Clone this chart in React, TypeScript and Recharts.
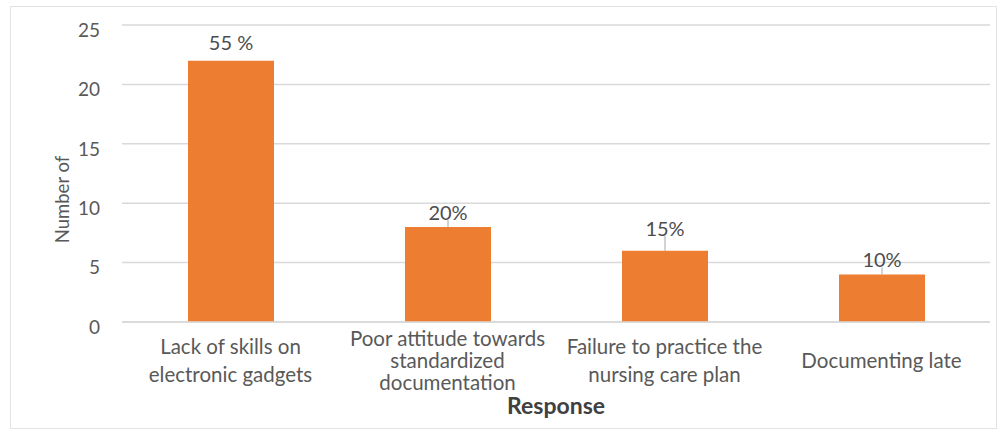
import React from "react";
import {
  BarChart,
  Bar,
  XAxis,
  YAxis,
  CartesianGrid,
  LabelList,
} from "recharts";

const responses = [
  "Lack of skills on\nelectronic gadgets",
  "Poor attitude towards\nstandardized\ndocumentation",
  "Failure to practice the\nnursing care plan",
  "Documenting late",
];
const counts = [22, 8, 6, 4];
const percentLabels = ["55 %", "20%", "15%", "10%"];
const yTicks = [0, 5, 10, 15, 20, 25];

// how far each percentage label sits above its bar, and whether it has a leader line
const labelLift = [19, 15, 23, 15];
const hasLeader = [false, true, true, true];

const data = responses.map((response, i) => ({
  response,
  count: counts[i],
  pct: percentLabels[i],
}));

const FONT = "Lato, 'Open Sans', sans-serif";
const GREY = "#595959";

function CategoryTick(props: any) {
  const { x, y, payload } = props;
  const lines: string[] = String(payload.value).split("\n");
  const step = lines.length > 2 ? 22 : 28;
  const top = y + 30 - ((lines.length - 1) * step) / 2;
  return (
    <g>
      {lines.map((line, i) => (
        <text
          key={i}
          x={x}
          y={top + i * step}
          textAnchor="middle"
          dominantBaseline="central"
          fontFamily={FONT}
          fontSize={20.5}
          fill={GREY}
        >
          {line}
        </text>
      ))}
    </g>
  );
}

function PercentLabel(props: any) {
  const { x, y, width, index } = props;
  const cx = x + width / 2;
  const cy = y - labelLift[index];
  return (
    <g>
      {hasLeader[index] && (
        <line x1={cx} y1={cy + 8} x2={cx} y2={y} stroke="#a6a6a6" strokeWidth={1} />
      )}
      <text
        x={cx}
        y={cy}
        textAnchor="middle"
        dominantBaseline="central"
        fontFamily={FONT}
        fontSize={20}
        fill="#4d4d4d"
      >
        {percentLabels[index]}
      </text>
    </g>
  );
}

export default function App() {
  return (
    <div
      style={{
        position: "absolute",
        left: 0,
        top: 0,
        width: 1005,
        height: 433,
        background: "#fff",
      }}
    >
      <div
        style={{
          position: "absolute",
          left: 10,
          top: 6,
          width: 985,
          height: 421,
          border: "1px solid #e3e3e3",
        }}
      />
      <BarChart
        width={1005}
        height={433}
        data={data}
        margin={{ top: 25, right: 15, left: 62, bottom: 0 }}
        style={{ position: "absolute", left: 0, top: 0 }}
      >
        <CartesianGrid vertical={false} stroke="#d9d9d9" strokeWidth={1.5} />
        <XAxis
          dataKey="response"
          height={111}
          interval={0}
          axisLine={{ stroke: "#d9d9d9", strokeWidth: 1.5 }}
          tickLine={false}
          tick={<CategoryTick />}
          label={{
            value: "Response",
            position: "insideBottom",
            offset: 19,
            fontFamily: FONT,
            fontSize: 23,
            fontWeight: 700,
            fill: "#404040",
          }}
        />
        <YAxis
          width={60}
          domain={[0, 25]}
          ticks={yTicks}
          axisLine={false}
          tickLine={false}
          tickSize={0}
          tickMargin={22}
          tick={{ fontFamily: FONT, fontSize: 19, fill: GREY, dy: 5 }}
          label={(p: any) => {
            const vb = p.viewBox;
            const cx = vb.x;
            const cy = vb.y + vb.height / 2 + 26;
            return (
              <text
                x={cx}
                y={cy}
                transform={`rotate(-90 ${cx} ${cy})`}
                textAnchor="middle"
                dominantBaseline="central"
                fontFamily={FONT}
                fontSize={18.5}
                fill={GREY}
              >
                Number of
              </text>
            );
          }}
        />
        <Bar dataKey="count" fill="#ED7D31" barSize={86} isAnimationActive={false}>
          <LabelList dataKey="pct" content={<PercentLabel />} />
        </Bar>
      </BarChart>
    </div>
  );
}
